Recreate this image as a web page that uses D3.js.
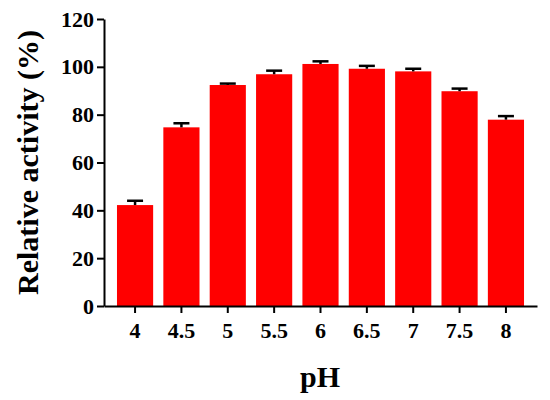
<!DOCTYPE html>
<html>
<head>
<meta charset="utf-8">
<script src="https://cdn.jsdelivr.net/npm/d3@7"></script>
<style>
  html, body { margin: 0; padding: 0; background: #fff; }
</style>
</head>
<body>
<div id="chart"></div>
<script>
const phLabels = ["4", "4.5", "5", "5.5", "6", "6.5", "7", "7.5", "8"];
const activity = [42.2, 74.7, 92.4, 96.9, 101.2, 99.2, 98.1, 89.8, 77.9];
const errors = [1.8, 1.7, 0.6, 1.5, 1.1, 1.2, 1.1, 1.1, 1.5];
const yTicks = [0, 20, 40, 60, 80, 100, 120];

(() => {
  const width = 550;
  const height = 400;
  const margin = { top: 19, right: 13, bottom: 94, left: 104 };
  const font = "Liberation Serif";

  const svg = d3
    .select("#chart")
    .append("svg")
    .attr("width", width)
    .attr("height", height);

  const xScale = d3
    .scaleBand()
    .domain(phLabels)
    .range([margin.left, width - margin.right])
    .paddingInner(0.22)
    .paddingOuter(0.28);

  const yScale = d3
    .scaleLinear()
    .domain([0, 120])
    .range([height - margin.bottom, margin.top]);

  const data = phLabels.map((p, i) => ({ ph: p, value: activity[i], err: errors[i] }));

  // bars
  svg
    .selectAll("rect.bar")
    .data(data)
    .join("rect")
    .attr("class", "bar")
    .attr("x", (d) => xScale(d.ph))
    .attr("y", (d) => yScale(d.value))
    .attr("width", xScale.bandwidth())
    .attr("height", (d) => yScale(0) - yScale(d.value))
    .attr("fill", "#ff0000");

  // error bars (upper only)
  const err = svg.append("g").attr("class", "errors");
  err
    .selectAll("line.stem")
    .data(data)
    .join("line")
    .attr("x1", (d) => xScale(d.ph) + xScale.bandwidth() / 2)
    .attr("x2", (d) => xScale(d.ph) + xScale.bandwidth() / 2)
    .attr("y1", (d) => yScale(d.value))
    .attr("y2", (d) => yScale(d.value + d.err))
    .attr("stroke", "#000")
    .attr("stroke-width", 2.5);
  err
    .selectAll("line.cap")
    .data(data)
    .join("line")
    .attr("x1", (d) => xScale(d.ph) + xScale.bandwidth() / 2 - 8)
    .attr("x2", (d) => xScale(d.ph) + xScale.bandwidth() / 2 + 8)
    .attr("y1", (d) => yScale(d.value + d.err))
    .attr("y2", (d) => yScale(d.value + d.err))
    .attr("stroke", "#000")
    .attr("stroke-width", 2.5);

  // axes
  const xAxis = d3.axisBottom(xScale).tickSizeInner(7).tickSizeOuter(0).tickPadding(9);
  const yAxis = d3.axisLeft(yScale).tickValues(yTicks).tickSizeInner(7).tickSizeOuter(0).tickPadding(3);

  const gx = svg
    .append("g")
    .attr("transform", `translate(0, ${height - margin.bottom})`)
    .call(xAxis);
  const gy = svg
    .append("g")
    .attr("transform", `translate(${margin.left}, 0)`)
    .call(yAxis);

  [gx, gy].forEach((g) => {
    g.attr("font-family", font).attr("font-size", 22).attr("font-weight", "bold");
    g.select(".domain").attr("stroke", "#000").attr("stroke-width", 2);
    g.selectAll(".tick line").attr("stroke", "#000").attr("stroke-width", 2);
    g.selectAll(".tick text").attr("fill", "#000");
  });

  // axis titles
  svg
    .append("text")
    .attr("transform", `translate(38, ${(margin.top + height - margin.bottom) / 2}) rotate(-90)`)
    .attr("text-anchor", "middle")
    .attr("font-family", font)
    .attr("font-weight", "bold")
    .attr("font-size", 30)
    .text("Relative activity (%)");

  svg
    .append("text")
    .attr("x", 320)
    .attr("y", 387)
    .attr("text-anchor", "middle")
    .attr("font-family", font)
    .attr("font-weight", "bold")
    .attr("font-size", 30)
    .text("pH");
})();
</script>
</body>
</html>
